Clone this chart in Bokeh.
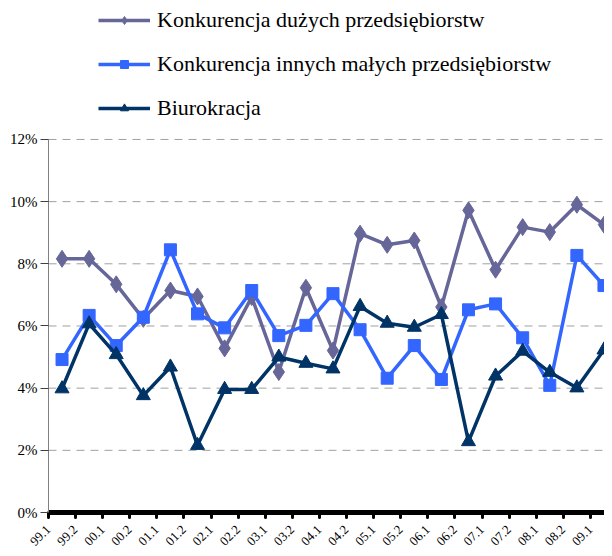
import math
from bokeh.plotting import figure
from bokeh.models import Range1d, FixedTicker, PrintfTickFormatter, Legend, LegendItem
from bokeh.embed import file_html
from bokeh.resources import INLINE

periods = ["99.1", "99.2", "00.1", "00.2", "01.1", "01.2", "02.1", "02.2", "03.1", "03.2",
           "04.1", "04.2", "05.1", "05.2", "06.1", "06.2", "07.1", "07.2", "08.1", "08.2", "09.1"]

duze = [8.16, 8.16, 7.34, 6.23, 7.14, 6.95, 5.28, 6.93, 4.52, 7.23, 5.21,
        8.97, 8.61, 8.75, 6.61, 9.72, 7.81, 9.18, 9.02, 9.90, 9.26]
male = [4.92, 6.34, 5.37, 6.28, 8.45, 6.39, 5.94, 7.14, 5.69, 6.02, 7.04,
        5.88, 4.32, 5.37, 4.28, 6.52, 6.71, 5.62, 4.09, 8.27, 7.30]
biuro = [3.98, 6.07, 5.08, 3.76, 4.68, 2.16, 3.96, 3.96, 5.00, 4.80, 4.62,
         6.63, 6.09, 5.96, 6.37, 2.28, 4.39, 5.19, 4.51, 4.01, 5.23]

names = ["Konkurencja dużych przedsiębiorstw",
         "Konkurencja innych małych przedsiębiorstw",
         "Biurokracja"]
y_ticks = [0, 2, 4, 6, 8, 10, 12]

xs = list(range(len(periods)))
tick_pos = [i - 0.5 for i in xs]
x_lo, x_hi = -0.5, len(periods) - 0.5

p = figure(width=604, height=548, output_backend="svg", toolbar_location=None,
           x_range=Range1d(-2.271, 20.02), y_range=Range1d(-1.158, 16.47),
           min_border_left=0, min_border_right=0, min_border_top=0, min_border_bottom=0)
p.outline_line_color = None
p.background_fill_color = "white"
p.xgrid.grid_line_color = None
p.ygrid.grid_line_color = None

# dashed horizontal gridlines between the axis and the right edge
p.segment(x0=[x_lo] * len(y_ticks), x1=[x_hi] * len(y_ticks), y0=y_ticks, y1=y_ticks,
          line_color="#a0a0a0", line_dash="8 6", line_width=1)

# x axis (drawn at y = 0 inside the frame)
p.xaxis.fixed_location = 0
p.xaxis.bounds = (x_lo, x_hi)
p.xaxis.ticker = FixedTicker(ticks=tick_pos)
p.xaxis.major_label_overrides = {t: lab for t, lab in zip(tick_pos, periods)}
p.xaxis.major_label_orientation = math.pi / 4
p.xaxis.axis_line_width = 5
p.xaxis.axis_line_color = "black"
p.xaxis.major_tick_line_width = 3
p.xaxis.major_tick_line_cap = "round"
p.xaxis.major_tick_in = 0
p.xaxis.major_tick_out = 5
p.xaxis.minor_tick_line_color = None
p.xaxis.major_label_text_font = "Liberation Serif"
p.xaxis.major_label_text_font_size = "13px"
p.xaxis.major_label_standoff = 10
p.xaxis.major_label_text_color = "black"

# y axis (drawn at the left category boundary)
p.yaxis.fixed_location = x_lo
p.yaxis.ticker = FixedTicker(ticks=y_ticks)
p.yaxis.bounds = (0, 12)
p.yaxis.formatter = PrintfTickFormatter(format="%d%%")
p.yaxis.axis_line_color = "#808080"
p.yaxis.axis_line_width = 1
p.yaxis.major_tick_line_color = "#404040"
p.yaxis.major_tick_in = 0
p.yaxis.major_tick_out = 8
p.yaxis.minor_tick_line_color = None
p.yaxis.major_label_text_font = "Liberation Serif"
p.yaxis.major_label_text_font_size = "15px"
p.yaxis.major_label_text_color = "black"
p.yaxis.major_label_standoff = 3

c1, c2, c3 = "#666699", "#3366FF", "#003366"

l1 = p.line(xs, duze, line_color=c1, line_width=3.5)
m1 = p.scatter(xs, duze, marker="diamond", size=17, fill_color=c1, line_color=c1)
l2 = p.line(xs, male, line_color=c2, line_width=3.5)
m2 = p.scatter(xs, male, marker="square", size=12, fill_color=c2, line_color=c2)
l3 = p.line(xs, biuro, line_color=c3, line_width=3.5)
m3 = p.scatter(xs, biuro, marker="triangle", size=14, fill_color=c3, line_color=c3)

legend = Legend(items=[LegendItem(label=names[0], renderers=[l1, m1]),
                       LegendItem(label=names[1], renderers=[l2, m2]),
                       LegendItem(label=names[2], renderers=[l3, m3])],
                location=(98, 427))
legend.glyph_width = 52
legend.glyph_height = 20
legend.label_height = 20
legend.spacing = 18
legend.padding = 0
legend.margin = 0
legend.label_standoff = 7
legend.border_line_color = None
legend.background_fill_alpha = 0
legend.label_text_font = "Liberation Serif"
legend.label_text_font_size = "22px"
legend.label_text_color = "black"
legend.label_text_baseline = "middle"
p.add_layout(legend, "center")

open("out.html", "w").write(file_html(p, INLINE))
